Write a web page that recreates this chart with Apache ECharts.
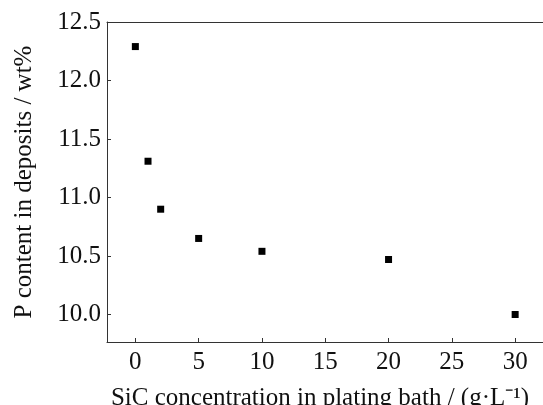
<!DOCTYPE html>
<html>
<head>
<meta charset="utf-8">
<script src="https://cdn.jsdelivr.net/npm/echarts@6/dist/echarts.min.js"></script>
<style>
  html, body { margin: 0; padding: 0; background: #fff; }
  #chart { width: 543px; height: 405px; }
</style>
</head>
<body>
<div id="chart"></div>
<script>
// SiC concentration in the bath (g/L) and P content of the deposit (wt%)
const sicConc = [0, 1, 2, 5, 10, 20, 30];
const pContent = [12.29, 11.31, 10.90, 10.65, 10.54, 10.47, 10.00];
const xTicks = [0, 5, 10, 15, 20, 25, 30];
const yTicks = [10.0, 10.5, 11.0, 11.5, 12.0, 12.5];

const font = 'Liberation Serif';
const lineColor = '#333';
const textColor = '#111';

const chart = echarts.init(document.getElementById('chart'), null, { renderer: 'canvas' });
chart.setOption({
  animation: false,
  backgroundColor: '#fff',
  grid: { left: 107, top: 22, right: 0, bottom: 63, containLabel: false, outerBoundsMode: 'none' },
  xAxis: [{
    type: 'value',
    min: -2.24,
    max: 32.2,
    name: 'SiC concentration in plating bath / (g·L⁻¹)',
    nameLocation: 'middle',
    nameGap: 44,
    nameTextStyle: { fontFamily: font, fontSize: 25, color: textColor, padding: [0, 10, 0, 0] },
    axisLine: { show: true, onZero: false, lineStyle: { color: lineColor, width: 1 } },
    axisTick: { show: true, inside: true, length: 4, customValues: xTicks, lineStyle: { color: lineColor } },
    axisLabel: { customValues: xTicks, fontFamily: font, fontSize: 25, color: textColor, margin: 8 },
    splitLine: { show: false }
  }, {
    type: 'value',
    position: 'top',
    min: -2.24,
    max: 32.2,
    axisLine: { show: true, onZero: false, lineStyle: { color: lineColor, width: 1 } },
    axisTick: { show: false },
    axisLabel: { show: false },
    splitLine: { show: false }
  }],
  yAxis: {
    type: 'value',
    min: 9.765,
    max: 12.5,
    name: 'P content in deposits / wt%',
    nameLocation: 'middle',
    nameGap: 70,
    nameTextStyle: { fontFamily: font, fontSize: 25, color: textColor },
    axisLine: { show: true, onZero: false, lineStyle: { color: lineColor, width: 1 } },
    axisTick: { show: true, inside: true, length: 4, customValues: yTicks, lineStyle: { color: lineColor } },
    axisLabel: {
      customValues: yTicks,
      fontFamily: font, fontSize: 25, color: textColor, margin: 6,
      formatter: v => v.toFixed(1)
    },
    splitLine: { show: false }
  },
  series: [{
    type: 'scatter',
    xAxisIndex: 0,
    data: sicConc.map((x, i) => [x, pContent[i]]),
    symbol: 'rect',
    symbolSize: 7,
    itemStyle: { color: '#000', opacity: 1 }
  }]
});
</script>
</body>
</html>
